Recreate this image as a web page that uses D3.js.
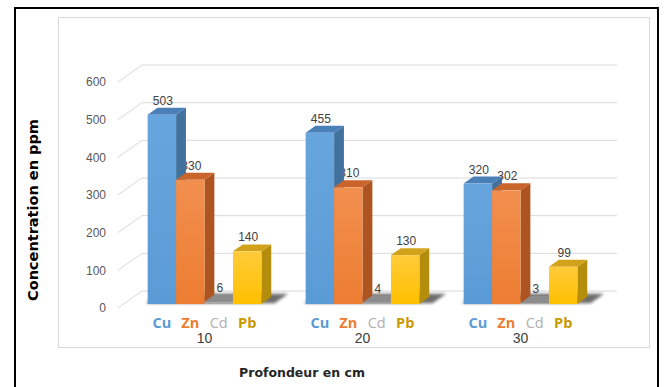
<!DOCTYPE html>
<html><head><meta charset="utf-8">
<script src="https://cdn.jsdelivr.net/npm/d3@7"></script>
<style>body{margin:0;background:#fff}svg{display:block}</style>
</head><body>
<svg id="chart" width="665" height="387"></svg>
<script>
// Concentrations (ppm) by soil depth (cm)
const depths = ["10", "20", "30"];
const metals = ["Cu", "Zn", "Cd", "Pb"];
const cuValues = [503, 455, 320];
const znValues = [330, 310, 302];
const cdValues = [6, 4, 3];
const pbValues = [140, 130, 99];
const yTickValues = [0, 100, 200, 300, 400, 500, 600];

const series = { Cu: cuValues, Zn: znValues, Cd: cdValues, Pb: pbValues };
const rows = [];
depths.forEach((d, i) => metals.forEach(m => rows.push({ depth: d, metal: m, value: series[m][i] })));

const palette = {
  Cu: { front: "#5B9BD5", light: "#67a5de", top: "#4a7fb8", side: "#41719c", text: "#5B9BD5" },
  Zn: { front: "#ED7D31", light: "#f28f4f", top: "#c9652a", side: "#ad5420", text: "#ED7D31" },
  Cd: { front: "#A5A5A5", light: "#b0b0b0", top: "#8c8c8c", side: "#7c7c7c", text: "#B0B0B0" },
  Pb: { front: "#FFC000", light: "#ffcb3a", top: "#d2a31a", side: "#b48d0c", text: "#C99A00" }
};

const svg = d3.select("#chart");
const defs = svg.append("defs");
metals.forEach(m => {
  const g = defs.append("linearGradient").attr("id", "grad-" + m)
    .attr("x1", 0).attr("y1", 0).attr("x2", 0).attr("y2", 1);
  g.append("stop").attr("offset", "0%").attr("stop-color", palette[m].light);
  g.append("stop").attr("offset", "100%").attr("stop-color", palette[m].front);
});
defs.append("filter").attr("id", "soft").attr("x", "-20%").attr("y", "-50%").attr("width", "140%").attr("height", "200%")
  .append("feGaussianBlur").attr("stdDeviation", 1.8);

// Outer frame and plot area
svg.append("rect").attr("x", 15).attr("y", 8).attr("width", 643).attr("height", 400)
  .attr("fill", "#fff").attr("stroke", "#000").attr("stroke-width", 2);
svg.append("rect").attr("x", 58.5).attr("y", 17.5).attr("width", 591).attr("height", 330)
  .attr("fill", "#fff").attr("stroke", "#d9d9d9");

// Oblique projection: depth z in [0,1] shifts points up and to the right
const DX = 24, DY = -17;
const P = (x, yy, z) => [x + DX * z, yy + DY * z];
const wallLeft = 118, wallRight = 593;

const x0 = d3.scaleBand().domain(depths).range([120, 594]).paddingInner(0.28).paddingOuter(0.14);
const x1 = d3.scaleBand().domain(metals).range([0, x0.bandwidth()]);
const y = d3.scaleLinear().domain([0, 600]).range([308, 82]);
const zF = 0.23, zB = 0.64;

// Gridlines: side-wall diagonal plus back-wall line
const grid = svg.append("g").attr("stroke", "#d9d9d9").attr("fill", "none");
yTickValues.forEach(v => {
  const pts = [P(wallLeft, y(v), 0), P(wallLeft, y(v), 1), P(wallRight, y(v), 1)];
  grid.append("path").attr("d", d3.line()(pts));
});

// Y tick labels
svg.append("g").selectAll("text").data(yTickValues).join("text")
  .attr("x", 106).attr("y", d => y(d)).attr("dy", "0.35em")
  .attr("text-anchor", "end").attr("fill", "#595959")
  .style("font", "12px 'Liberation Sans', Arial, sans-serif")
  .text(d => d);

const barX = d => x0(d.depth) + x1(d.metal);
const bw = x1.bandwidth();
const poly = pts => "M" + pts.map(p => p.join(",")).join("L") + "Z";

// Floor shadows
const shadow = svg.append("g").attr("filter", "url(#soft)").attr("opacity", 0.75);
depths.forEach(d => {
  const xl = x0(d) - 3, xr = x0(d) + x0.bandwidth() + 12;
  shadow.append("path").attr("fill", "#3c3c3c")
    .attr("d", poly([P(xl, y(0), zF + 0.05), P(xr, y(0), zF + 0.05), P(xr, y(0), zB + 0.2), P(xl, y(0), zB + 0.2)]));
});

// Value labels (drawn behind the bars)
svg.append("g").selectAll("text").data(rows).join("text")
  .attr("x", d => barX(d) + bw / 2 + DX * zF + 1)
  .attr("y", d => y(d.value) + DY * zB - 3)
  .attr("text-anchor", "middle").attr("fill", "#404040")
  .style("font", "12px 'Liberation Sans', Arial, sans-serif")
  .text(d => d.value);

// 3D bars
const bars = svg.append("g");
rows.forEach(d => {
  const xl = barX(d), xr = xl + bw, yt = y(d.value), yb = y(0);
  const c = palette[d.metal];
  const g = bars.append("g");
  g.append("path").attr("fill", c.side)
    .attr("d", poly([P(xr, yt, zF), P(xr, yt, zB), P(xr, yb, zB), P(xr, yb, zF)]));
  g.append("path").attr("fill", c.top)
    .attr("d", poly([P(xl, yt, zF), P(xl, yt, zB), P(xr, yt, zB), P(xr, yt, zF)]));
  const f = P(xl, yt, zF);
  g.append("rect").attr("x", f[0]).attr("y", f[1]).attr("width", bw).attr("height", yb - yt)
    .attr("fill", "url(#grad-" + d.metal + ")");
});

// Metal labels under each bar
svg.append("g").selectAll("text").data(rows).join("text")
  .attr("x", d => barX(d) + bw / 2 + DX * zF)
  .attr("y", 323).attr("dy", "0.35em")
  .attr("text-anchor", "middle")
  .attr("fill", d => palette[d.metal].text)
  .style("font-family", "'Open Sans', sans-serif")
  .style("font-size", "14.5px")
  .style("font-weight", d => d.metal === "Cd" ? 400 : 700)
  .text(d => d.metal);

// Depth labels
svg.append("g").selectAll("text").data(depths).join("text")
  .attr("x", d => x0(d) + x0.bandwidth() / 2 + DX * zF)
  .attr("y", 338).attr("dy", "0.35em")
  .attr("text-anchor", "middle").attr("fill", "#404040")
  .style("font", "14px 'Liberation Sans', Arial, sans-serif")
  .text(d => d);

// Axis titles
svg.append("text").attr("transform", "translate(33,210) rotate(-90)")
  .attr("text-anchor", "middle").attr("dy", "0.35em").attr("fill", "#000")
  .style("font", "bold 14.5px 'DejaVu Sans', sans-serif")
  .text("Concentration en ppm");
svg.append("text").attr("x", 302).attr("y", 373).attr("dy", "0.35em")
  .attr("text-anchor", "middle").attr("fill", "#262626")
  .style("font", "bold 12.5px 'DejaVu Sans', sans-serif")
  .text("Profondeur en cm");
</script>
</body></html>
